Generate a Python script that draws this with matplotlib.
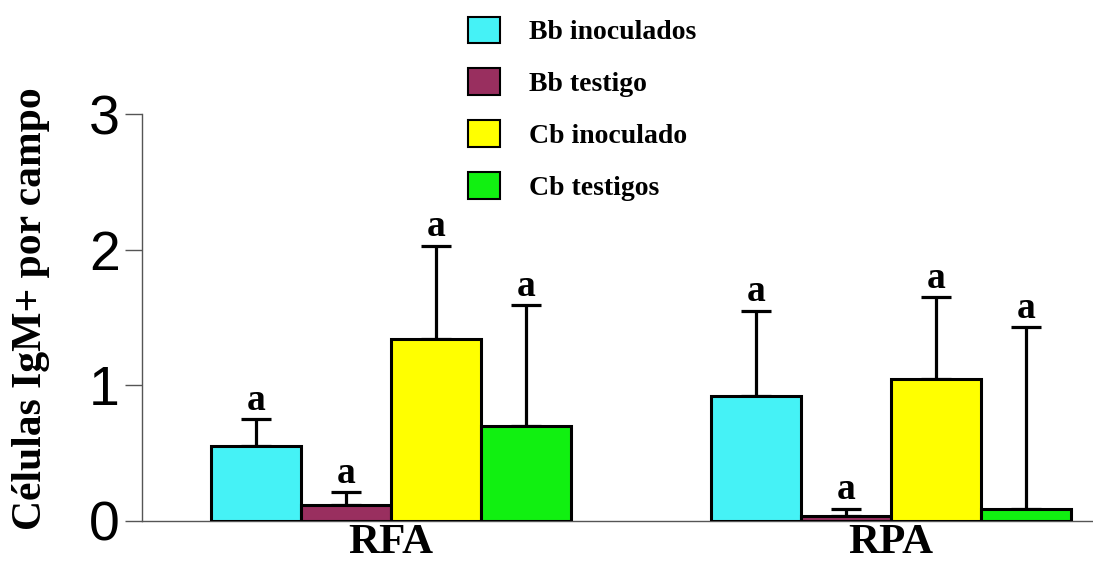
import numpy as np
import matplotlib.pyplot as plt
from matplotlib.patches import Patch

groups = ["RFA", "RPA"]
series = ["Bb inoculados", "Bb testigo", "Cb inoculado", "Cb testigos"]
colors = ["#45F2F6", "#992F5F", "#FFFF00", "#11F011"]

# mean values and upper error bar lengths
bb_inoc = [0.55, 0.92]
bb_test = [0.12, 0.04]
cb_inoc = [1.34, 1.05]
cb_test = [0.70, 0.09]
values = [bb_inoc, bb_test, cb_inoc, cb_test]

bb_inoc_err = [0.20, 0.63]
bb_test_err = [0.09, 0.05]
cb_inoc_err = [0.69, 0.60]
cb_test_err = [0.89, 1.34]
errors = [bb_inoc_err, bb_test_err, cb_inoc_err, cb_test_err]

letter = "a"

serif = "Liberation Serif"
sans = "Liberation Sans"

fig = plt.figure(figsize=(10.93, 5.69), dpi=100)
ax = fig.add_axes([0.130, 0.0844, 0.870, 0.7152])

x = np.arange(len(groups))
w = 0.18
offsets = np.array([-1.5, -0.5, 0.5, 1.5]) * w

for vals, errs, off, col in zip(values, errors, offsets, colors):
    vals = np.array(vals)
    errs = np.array(errs)
    ax.bar(x + off, vals, width=w, color=col, edgecolor="black",
           linewidth=2.2, zorder=3)
    ax.errorbar(x + off, vals, yerr=[np.zeros_like(errs), errs],
                fmt="none", ecolor="black", elinewidth=2.3,
                capsize=11, capthick=2.3, zorder=2)
    for xi, top in zip(x + off, vals + errs):
        ax.text(xi, top + 0.07, letter, ha="center", va="baseline",
                fontsize=27, fontweight="bold", family=serif)

ax.set_xlim(-0.498, 1.404)
ax.set_ylim(0, 3)
ax.set_yticks([0, 1, 2, 3])
ax.set_xticks(x)
ax.set_xticklabels(groups, fontsize=31, fontweight="bold", family=serif)
ax.tick_params(axis="x", length=0, pad=2)
ax.tick_params(axis="y", length=12, width=1, color="#555555",
               labelsize=40, pad=4)
for lab in ax.get_yticklabels():
    lab.set_family(sans)

for side in ["top", "right"]:
    ax.spines[side].set_visible(False)
for side in ["left", "bottom"]:
    ax.spines[side].set_color("#555555")
    ax.spines[side].set_linewidth(1)

ax.set_ylabel("Células IgM+ por campo", fontsize=30, fontweight="bold",
              family=serif)
ax.yaxis.set_label_coords(-0.097, 0.523)

handles = [Patch(facecolor=c, edgecolor="black", linewidth=1.5) for c in colors]
fig.legend(handles, series, loc="upper left", bbox_to_anchor=(0.410, 1.005),
           frameon=False, prop={"family": serif, "weight": "bold", "size": 20},
           handlelength=1.15, handleheight=1.1, handletextpad=1.05,
           labelspacing=0.83, borderaxespad=0.3)

fig.savefig("out.png", dpi=100)
